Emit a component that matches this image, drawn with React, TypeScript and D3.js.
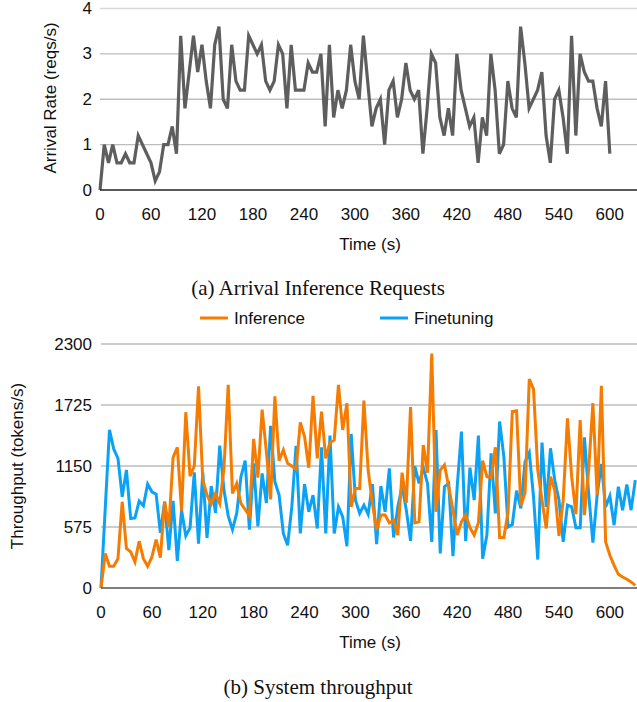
import { useEffect, useRef } from 'react';
import * as d3 from 'd3';

// sampling interval of both traces, seconds
const STEP = 5;

const arrivalRate = [
  0, 1.0, 0.6, 1.0, 0.6, 0.6, 0.8, 0.6, 0.6, 1.2, 1.0, 0.8, 0.6, 0.2, 0.4, 1.0, 1.0, 1.4, 0.8, 3.4,
  1.8, 2.6, 3.4, 2.6, 3.2, 2.4, 1.8, 3.2, 3.6, 2.0, 1.8, 3.2, 2.4, 2.2, 2.2, 3.4, 3.2, 3.0, 3.2, 2.4,
  2.2, 2.4, 3.2, 3.0, 1.8, 3.2, 2.2, 2.2, 2.2, 2.8, 2.6, 2.6, 3.0, 1.4, 3.2, 1.6, 2.2, 1.8, 2.2, 3.2,
  2.4, 2.0, 3.4, 2.4, 1.4, 1.8, 2.0, 1.0, 2.2, 2.4, 1.6, 2.0, 2.8, 2.2, 2.0, 2.2, 0.8, 1.8, 3.0, 2.8,
  1.6, 1.2, 1.8, 1.2, 3.0, 2.2, 1.8, 1.4, 1.6, 0.6, 1.6, 1.2, 3.0, 2.2, 0.8, 1.0, 2.4, 1.8, 1.6, 3.6,
  2.8, 1.8, 2.0, 2.2, 2.6, 1.2, 0.6, 2.0, 2.2, 1.6, 0.8, 3.4, 1.2, 3.0, 2.6, 2.4, 2.4, 1.8, 1.4, 2.4,
  0.8
];

const inference = [
  0, 325, 205, 205, 277, 813, 372, 340, 246, 441, 277, 205, 293, 457, 287, 813, 576, 1232, 1326, 728,
  1657, 1055, 1150, 1900, 1017, 876, 791, 891, 797, 1128, 1915, 891, 986, 797, 740, 680, 1405, 1040, 1681, 1286,
  835, 1806, 1200, 1301, 1175, 1150, 1118, 1560, 1427, 1134, 1812, 1222, 1663, 1222, 1373, 1395, 1915, 1490, 1742, 765,
  939, 939, 1767, 1112, 797, 545, 687, 687, 614, 639, 498, 1087, 803, 1705, 614, 624, 1348, 1087, 2209, 718,
  1112, 1160, 955, 734, 498, 624, 687, 570, 498, 614, 1200, 1049, 1040, 1326, 476, 476, 718, 1663, 1670, 775,
  898, 1969, 1875, 1112, 829, 561, 1049, 923, 491, 829, 1600, 1049, 696, 1584, 687, 1112, 1742, 876, 1906, 435,
  309, 214, 129, 104, 82, 57, 25
];

const finetuning = [
  0, 750, 1490, 1310, 1222, 860, 1112, 655, 661, 819, 775, 980, 907, 885, 520, 813, 356, 822, 255, 734,
  491, 567, 1090, 419, 1090, 473, 961, 709, 1342, 923, 680, 551, 703, 1049, 1200, 551, 1175, 580, 1080, 800,
  1528, 1002, 876, 514, 403, 765, 1339, 514, 980, 718, 876, 561, 1326, 514, 1436, 514, 765, 671, 394, 1452,
  829, 703, 781, 695, 980, 413, 961, 718, 1128, 476, 765, 961, 734, 444, 1150, 986, 1135, 983, 435, 1490,
  325, 955, 986, 299, 955, 1475, 441, 1134, 829, 1436, 277, 500, 1270, 703, 1569, 1238, 576, 599, 917, 750,
  1191, 1276, 860, 268, 1370, 765, 1317, 1017, 829, 435, 781, 765, 567, 567, 1420, 891, 428, 876, 1169, 765,
  866, 592, 955, 734, 976, 734, 1017
];

const timeTicks = [0, 60, 120, 180, 240, 300, 360, 420, 480, 540, 600];
const rateTicks = [0, 1, 2, 3, 4];
const throughputTicks = [0, 575, 1150, 1725, 2300];

const seriesB = [
  { name: 'Inference', values: inference, color: '#f57c00' },
  { name: 'Finetuning', values: finetuning, color: '#0ba2f5' }
];

const SANS = '"Liberation Sans", Arial, Helvetica, sans-serif';
const SERIF = '"Liberation Serif", "Times New Roman", serif';
const FS = '17px';

export default function App() {
  const svgRef = useRef<SVGSVGElement | null>(null);

  useEffect(() => {
    const svg = d3.select(svgRef.current);
    svg.selectAll('*').remove();

    const drawPanel = (top: number, bottom: number, left: number, yMax: number, yTicks: number[]) => {
      const x = d3.scaleLinear().domain([0, 632]).range([left, 637]);
      const y = d3.scaleLinear().domain([0, yMax]).range([bottom, top]);
      const g = svg.append('g');

      yTicks.filter(t => t > 0).forEach((t, i, arr) => {
        g.append('line')
          .attr('x1', left).attr('x2', 637)
          .attr('y1', y(t)).attr('y2', y(t))
          .attr('stroke', i === arr.length - 1 && yMax === 4 ? '#d8d8d8' : '#bdbdbd')
          .attr('stroke-width', 1.3);
      });

      yTicks.forEach(t => {
        g.append('text')
          .attr('x', 92)
          .attr('y', y(t))
          .attr('text-anchor', 'end')
          .attr('dominant-baseline', 'central')
          .attr('fill', '#111')
          .style('font-family', SANS)
          .style('font-size', FS)
          .text(t);
      });

      timeTicks.forEach(t => {
        g.append('text')
          .attr('x', x(t))
          .attr('y', bottom + 24)
          .attr('text-anchor', 'middle')
          .attr('dominant-baseline', 'central')
          .attr('fill', '#111')
          .style('font-family', SANS)
          .style('font-size', FS)
          .text(t);
      });

      g.append('text')
        .attr('x', 370)
        .attr('y', bottom + 54)
        .attr('text-anchor', 'middle')
        .attr('dominant-baseline', 'central')
        .attr('fill', '#111')
        .style('font-family', SANS)
        .style('font-size', FS)
        .text('Time (s)');

      return { x, y, g };
    };

    // (a) arrival rate
    const a = drawPanel(8.5, 190, 100, 4, rateTicks);
    const lineA = d3.line<number>()
      .x((d, i) => a.x(i * STEP))
      .y(d => a.y(d));
    a.g.append('path')
      .datum(arrivalRate)
      .attr('d', lineA)
      .attr('fill', 'none')
      .attr('stroke', '#5e5e5e')
      .attr('stroke-width', 3.2);
    a.g.append('line')
      .attr('x1', 100).attr('x2', 637)
      .attr('y1', 190).attr('y2', 190)
      .attr('stroke', '#222').attr('stroke-width', 1.6);

    svg.append('text')
      .attr('transform', 'translate(50,98) rotate(-90)')
      .attr('text-anchor', 'middle')
      .attr('dominant-baseline', 'central')
      .attr('fill', '#111')
      .style('font-family', SANS)
      .style('font-size', FS)
      .text('Arrival Rate (reqs/s)');

    svg.append('text')
      .attr('x', 318)
      .attr('y', 288)
      .attr('text-anchor', 'middle')
      .attr('dominant-baseline', 'central')
      .attr('fill', '#111')
      .style('font-family', SERIF)
      .style('font-size', '21px')
      .text('(a) Arrival Inference Requests');

    // (b) throughput
    const b = drawPanel(344, 588, 101, 2300, throughputTicks);
    const lineB = d3.line<number>()
      .x((d, i) => b.x(i * STEP))
      .y(d => b.y(d));
    [seriesB[1], seriesB[0]].forEach(s => {
      b.g.append('path')
        .datum(s.values)
        .attr('d', lineB)
        .attr('fill', 'none')
        .attr('stroke', s.color)
        .attr('stroke-width', 3);
    });
    b.g.append('line')
      .attr('x1', 101).attr('x2', 637)
      .attr('y1', 588).attr('y2', 588)
      .attr('stroke', '#555').attr('stroke-width', 1.6);

    svg.append('text')
      .attr('transform', 'translate(17,466) rotate(-90)')
      .attr('text-anchor', 'middle')
      .attr('dominant-baseline', 'central')
      .attr('fill', '#111')
      .style('font-family', SANS)
      .style('font-size', FS)
      .text('Throughput (tokens/s)');

    const legend = svg.append('g').attr('transform', 'translate(200,318)');
    seriesB.forEach((s, i) => {
      const item = legend.append('g').attr('transform', `translate(${i * 180},0)`);
      item.append('line')
        .attr('x1', 0).attr('x2', 28)
        .attr('y1', 0).attr('y2', 0)
        .attr('stroke', s.color)
        .attr('stroke-width', 3);
      item.append('text')
        .attr('x', 34)
        .attr('y', 0)
        .attr('dominant-baseline', 'central')
        .attr('fill', '#111')
        .style('font-family', SANS)
        .style('font-size', FS)
        .text(s.name);
    });

    svg.append('text')
      .attr('x', 318)
      .attr('y', 687)
      .attr('text-anchor', 'middle')
      .attr('dominant-baseline', 'central')
      .attr('fill', '#111')
      .style('font-family', SERIF)
      .style('font-size', '21px')
      .text('(b) System throughput');
  }, []);

  return (
    <svg
      ref={svgRef}
      width={637}
      height={702}
      style={{ position: 'absolute', left: 0, top: 0, background: '#fff' }}
    />
  );
}
